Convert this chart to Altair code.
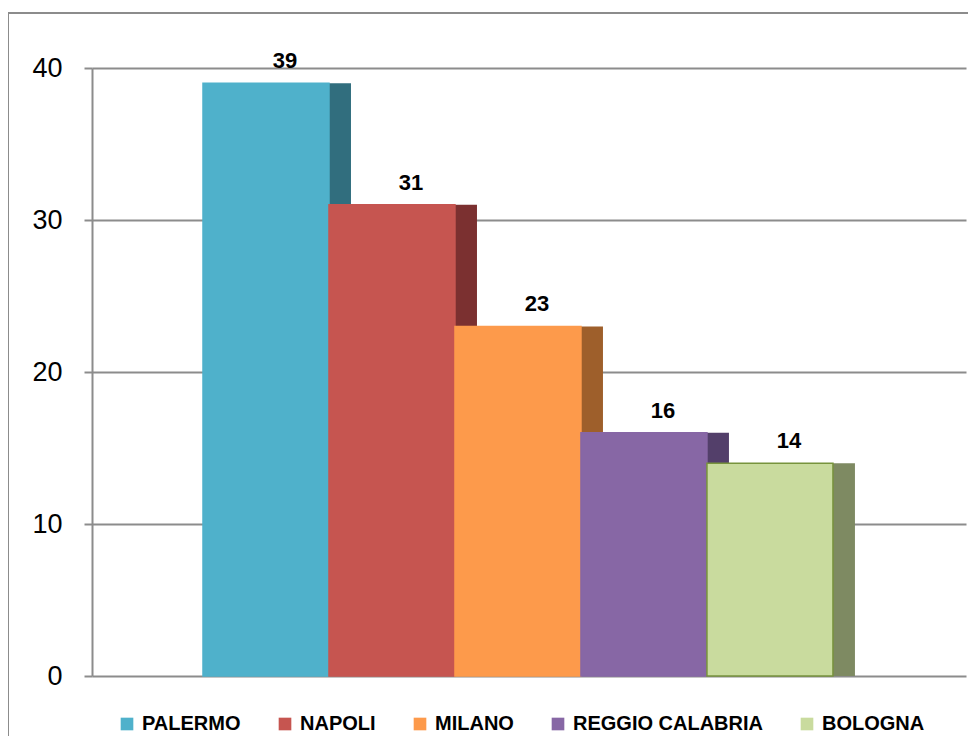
import altair as alt
import pandas as pd

cities = ["PALERMO", "NAPOLI", "MILANO", "REGGIO CALABRIA", "BOLOGNA"]
values = [39, 31, 23, 16, 14]
front_colors = ["#4FB1CB", "#C65550", "#FD9A4B", "#8767A5", "#C9DB9E"]
side_colors = ["#316E7E", "#7B3030", "#9E5F2B", "#533F6A", "#7E8A62"]
edge_colors = ["#4FB1CB", "#C65550", "#FD9A4B", "#8767A5", "#77933C"]
y_ticks = [0, 10, 20, 30, 40]

DEPTH = 22 / 126  # depth of the pseudo-3D side face, in bar widths

df = pd.DataFrame({"city": cities, "value": values, "idx": list(range(len(cities)))})
df["x0"] = df["idx"]
df["x1"] = df["idx"] + 1
df["s1"] = df["idx"] + 1 + DEPTH
df["xc"] = df["idx"] + 0.5
df["side_color"] = side_colors
df["base"] = 0

xscale = alt.Scale(domain=[-0.881, 6.056], nice=False, zero=False)
yscale = alt.Scale(domain=[0, 40], nice=False)

yaxis = alt.Axis(values=y_ticks, title=None, grid=True, gridColor="#8C8C8C",
                 gridWidth=2, domainColor="#8C8C8C", domainWidth=2,
                 tickColor="#8C8C8C", tickWidth=2, tickSize=8,
                 labelFont="Liberation Sans", labelFontSize=27,
                 labelColor="#000000", labelPadding=22)

base = alt.Chart(df)

sides = base.mark_rect(strokeWidth=0).encode(
    x=alt.X("x1:Q", scale=xscale, axis=None),
    x2="s1:Q",
    y=alt.Y("value:Q", scale=yscale, axis=yaxis),
    y2="base:Q",
    fill=alt.Fill("side_color:N", scale=None, legend=None),
)

fronts = base.mark_rect(strokeWidth=1.5).encode(
    x=alt.X("x0:Q", scale=xscale, axis=None),
    x2="x1:Q",
    y=alt.Y("value:Q", scale=yscale, axis=yaxis),
    y2="base:Q",
    color=alt.Color("city:N", scale=alt.Scale(domain=cities, range=front_colors),
                    legend=alt.Legend(orient="none", legendX=25, legendY=646,
                                      direction="horizontal", title=None,
                                      symbolType="square", symbolSize=160,
                                      symbolStrokeWidth=0,
                                      labelFont="Liberation Sans", labelFontSize=20,
                                      labelFontWeight="bold", labelColor="#000000",
                                      labelLimit=400,
                                      labelOffset=5, columnPadding=34)),
    stroke=alt.Stroke("city:N", scale=alt.Scale(domain=cities, range=edge_colors), legend=None),
)

labels = base.mark_text(font="Liberation Sans", fontSize=22, fontWeight="bold",
                        color="#000000", baseline="middle", align="center",
                        dx=19, dy=-22).encode(
    x=alt.X("xc:Q", scale=xscale, axis=None),
    y=alt.Y("value:Q", scale=yscale, axis=yaxis),
    text="value:Q",
)

border_data = alt.Data(values=[{"a": 1}])
border_top = alt.Chart(border_data).mark_rule(color="#8C8C8C", strokeWidth=2).encode(
    x=alt.value(-84), x2=alt.value(900), y=alt.value(-55))
border_left = alt.Chart(border_data).mark_rule(color="#8C8C8C", strokeWidth=2).encode(
    x=alt.value(-84), y=alt.value(-55), y2=alt.value(700))

chart = alt.layer(border_top, border_left, sides, fronts, labels).properties(
    width=874, height=608,
    padding={"left": 84, "top": 60, "right": 2, "bottom": 60},
    autosize="none",
    background="#FFFFFF",
).configure_view(stroke=None).configure_axisY(
    labelFontSize=27, labelFont="Liberation Sans", labelColor="#000000"
)

chart.save("out.html", embed_options={"renderer": "svg", "actions": False})
